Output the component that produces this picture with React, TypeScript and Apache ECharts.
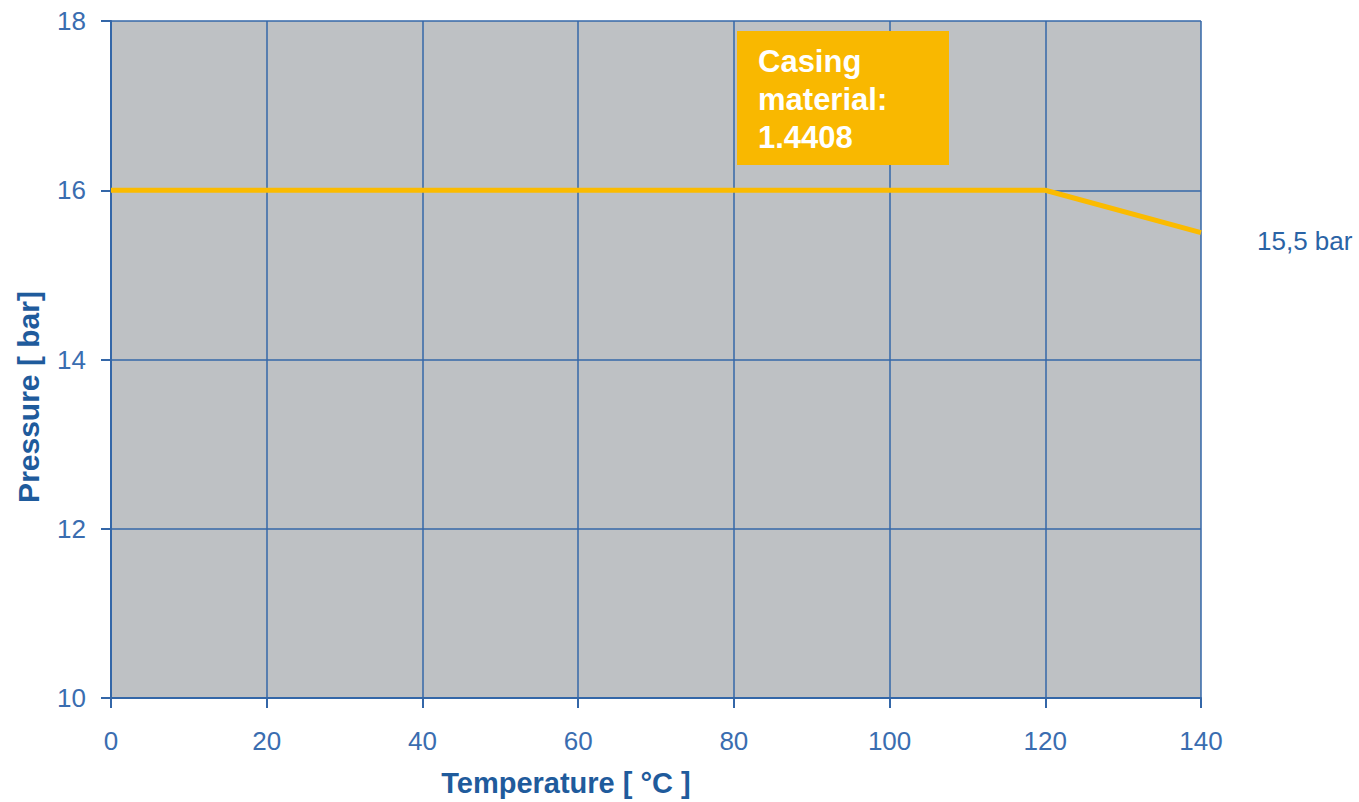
import React, { useEffect, useRef } from "react";
import * as echarts from "echarts";

const temperatures = [0, 120, 140];
const pressures = [16, 16, 15.5];
const xTicks = [0, 20, 40, 60, 80, 100, 120, 140];
const yTicks = [10, 12, 14, 16, 18];
const endLabelText = "15,5 bar";
const boxLines = ["Casing", "material:", "1.4408"];
const yAxisTitle = "Pressure [ bar]";

const BLUE = "#3467a8";
const LABEL = "#3a6db0";
const TITLE = "#1f5b9c";
const YELLOW = "#fbbb00";

export default function App() {
  const ref = useRef<HTMLDivElement>(null);
  useEffect(() => {
    if (!ref.current) return;
    const chart = echarts.init(ref.current, undefined, { renderer: "svg" });
    chart.setOption({
      animation: false,
      backgroundColor: "#ffffff",
      grid: {
        left: 111,
        right: 158,
        top: 21,
        bottom: 102,
        show: true,
        backgroundColor: "#bec1c4",
        borderWidth: 0,
      },
      xAxis: {
        type: "value",
        min: xTicks[0],
        max: xTicks[xTicks.length - 1],
        interval: 20,
        name: "Temperature [ °C ]",
        nameLocation: "middle",
        nameGap: 70,
        nameTextStyle: {
          color: TITLE,
          fontFamily: "Liberation Sans",
          fontWeight: "bold",
          fontSize: 29,
          padding: [0, 180, 0, 0],
        },
        axisLine: { show: true, onZero: false, lineStyle: { color: BLUE, width: 2 } },
        axisTick: { show: true, length: 10, lineStyle: { color: BLUE, width: 2 } },
        splitLine: { show: true, lineStyle: { color: BLUE, width: 1.5 } },
        axisLabel: {
          color: LABEL,
          fontFamily: "Liberation Sans",
          fontSize: 26,
          margin: 30,
        },
      },
      yAxis: {
        type: "value",
        min: yTicks[0],
        max: yTicks[yTicks.length - 1],
        interval: 2,
        axisLine: { show: true, onZero: false, lineStyle: { color: BLUE, width: 2 } },
        axisTick: { show: true, length: 10, lineStyle: { color: BLUE, width: 2 } },
        splitLine: { show: true, lineStyle: { color: BLUE, width: 1.5 } },
        axisLabel: {
          color: LABEL,
          fontFamily: "Liberation Sans",
          fontSize: 26,
          margin: 25,
        },
      },
      series: [
        {
          type: "line",
          data: temperatures.map((t, i) => [t, pressures[i]]),
          showSymbol: false,
          symbol: "none",
          lineStyle: { color: YELLOW, width: 5 },
          clip: false,
          endLabel: {
            show: true,
            formatter: endLabelText,
            color: "#2a63a5",
            fontFamily: "Liberation Sans",
            fontSize: 26,
            distance: 56,
            offset: [0, 8],
          },
        },
      ],
      graphic: [
        {
          type: "text",
          x: 28,
          y: 397,
          rotation: Math.PI / 2,
          style: {
            text: yAxisTitle,
            fill: TITLE,
            font: "bold 30px 'Liberation Sans'",
            align: "center",
            verticalAlign: "middle",
          },
        },
        {
          type: "rect",
          shape: { x: 737, y: 31, width: 212, height: 134 },
          style: { fill: "#f9b800" },
          z: 100,
        },
        {
          type: "text",
          x: 758,
          y: 42,
          z: 101,
          style: {
            text: boxLines.join("\n"),
            fill: "#ffffff",
            font: "bold 31px 'Liberation Sans'",
            lineHeight: 38,
          },
        },
      ],
    });
    return () => chart.dispose();
  }, []);
  return (
    <div
      ref={ref}
      style={{ position: "fixed", left: 0, top: 0, width: 1359, height: 802 }}
    />
  );
}
